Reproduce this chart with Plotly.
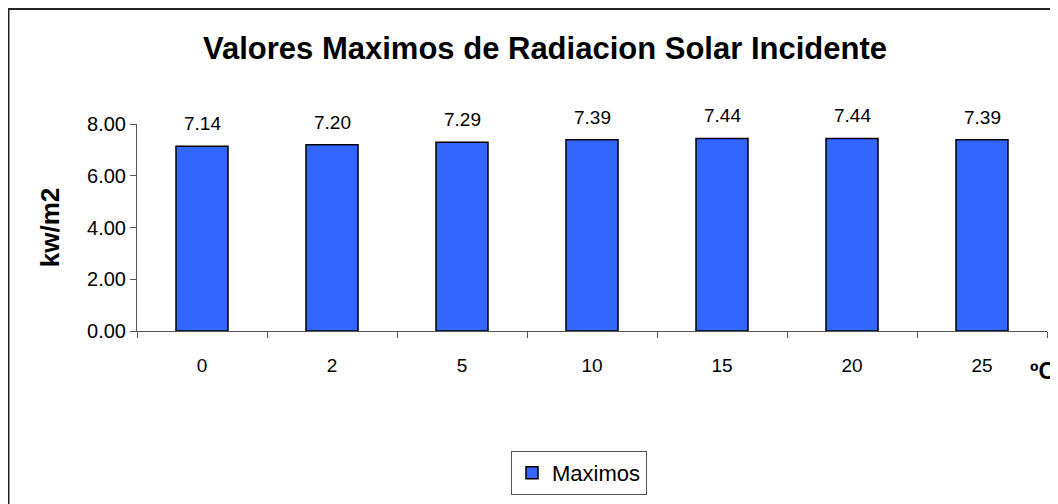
import plotly.graph_objects as go

categories = ["0", "2", "5", "10", "15", "20", "25"]
values = [7.14, 7.20, 7.29, 7.39, 7.44, 7.44, 7.39]
series_name = "Maximos"
y_ticks = [0, 2, 4, 6, 8]

FONT = "Arial, Liberation Sans, sans-serif"

# page body has an 8px margin, so work in figure coordinates = screen - 8
OFF = 8
W, H = 1058 - OFF, 504 - OFF
L, R, T, B = 137 - OFF, 11, 124 - OFF, H - (332 - OFF)
pw, ph = W - L - R, H - T - B

def px(x):
    return (x - OFF - L) / pw

def py(y):
    return (T + ph - (y - OFF)) / ph

fig = go.Figure()
fig.add_trace(go.Bar(
    x=categories, y=values, name=series_name,
    marker=dict(color="#3366FF", line=dict(color="black", width=1.5)),
    width=0.4, showlegend=True,
))

for i, v in enumerate(values):
    fig.add_annotation(x=i, y=v, text=f"{v:.2f}", showarrow=False,
                       yanchor="bottom", yshift=10,
                       font=dict(family=FONT, size=19, color="black"))

fig.add_shape(type="rect", xref="paper", yref="paper",
              x0=px(8.5), x1=px(1080), y0=py(530), y1=py(8.5),
              line=dict(color="#222222", width=2), fillcolor="rgba(0,0,0,0)",
              layer="below")

fig.add_annotation(xref="paper", yref="paper", x=px(1028), y=py(372),
                   xanchor="left", yanchor="middle", text="<b>ºC</b>",
                   showarrow=False, font=dict(family=FONT, size=23, color="black"))

fig.update_layout(
    width=W, height=H,
    margin=dict(l=L, r=R, t=T, b=B),
    paper_bgcolor="white", plot_bgcolor="white",
    title=dict(text="<b>Valores Maximos de Radiacion Solar Incidente</b>",
               xref="container", x=(545 - OFF) / W, xanchor="center",
               yref="container", y=1 - (48 - OFF) / H, yanchor="middle",
               font=dict(family=FONT, size=31, color="black")),
    font=dict(family=FONT, size=19, color="black"),
    xaxis=dict(type="category", range=[-0.5, len(categories) - 0.5],
               showline=True, linecolor="#555555", linewidth=1,
               ticks="outside", tickson="boundaries", ticklen=6, tickcolor="#555555",
               showgrid=False, ticklabelstandoff=17,
               tickfont=dict(family=FONT, size=19)),
    yaxis=dict(range=[0, 8], tickvals=y_ticks, tickformat=".2f",
               showline=True, linecolor="#555555", linewidth=1,
               ticks="outside", ticklen=6, tickcolor="#555555", showgrid=False,
               zeroline=False, tickfont=dict(family=FONT, size=20),
               title=dict(text="<b>kw/m2</b>", standoff=19,
                          font=dict(family=FONT, size=26))),
    legend=dict(x=px(579), y=py(451), xanchor="center", yanchor="top",
                bordercolor="#555555", borderwidth=1, bgcolor="white",
                font=dict(family=FONT, size=22)),
)

fig.write_html("out.html")
